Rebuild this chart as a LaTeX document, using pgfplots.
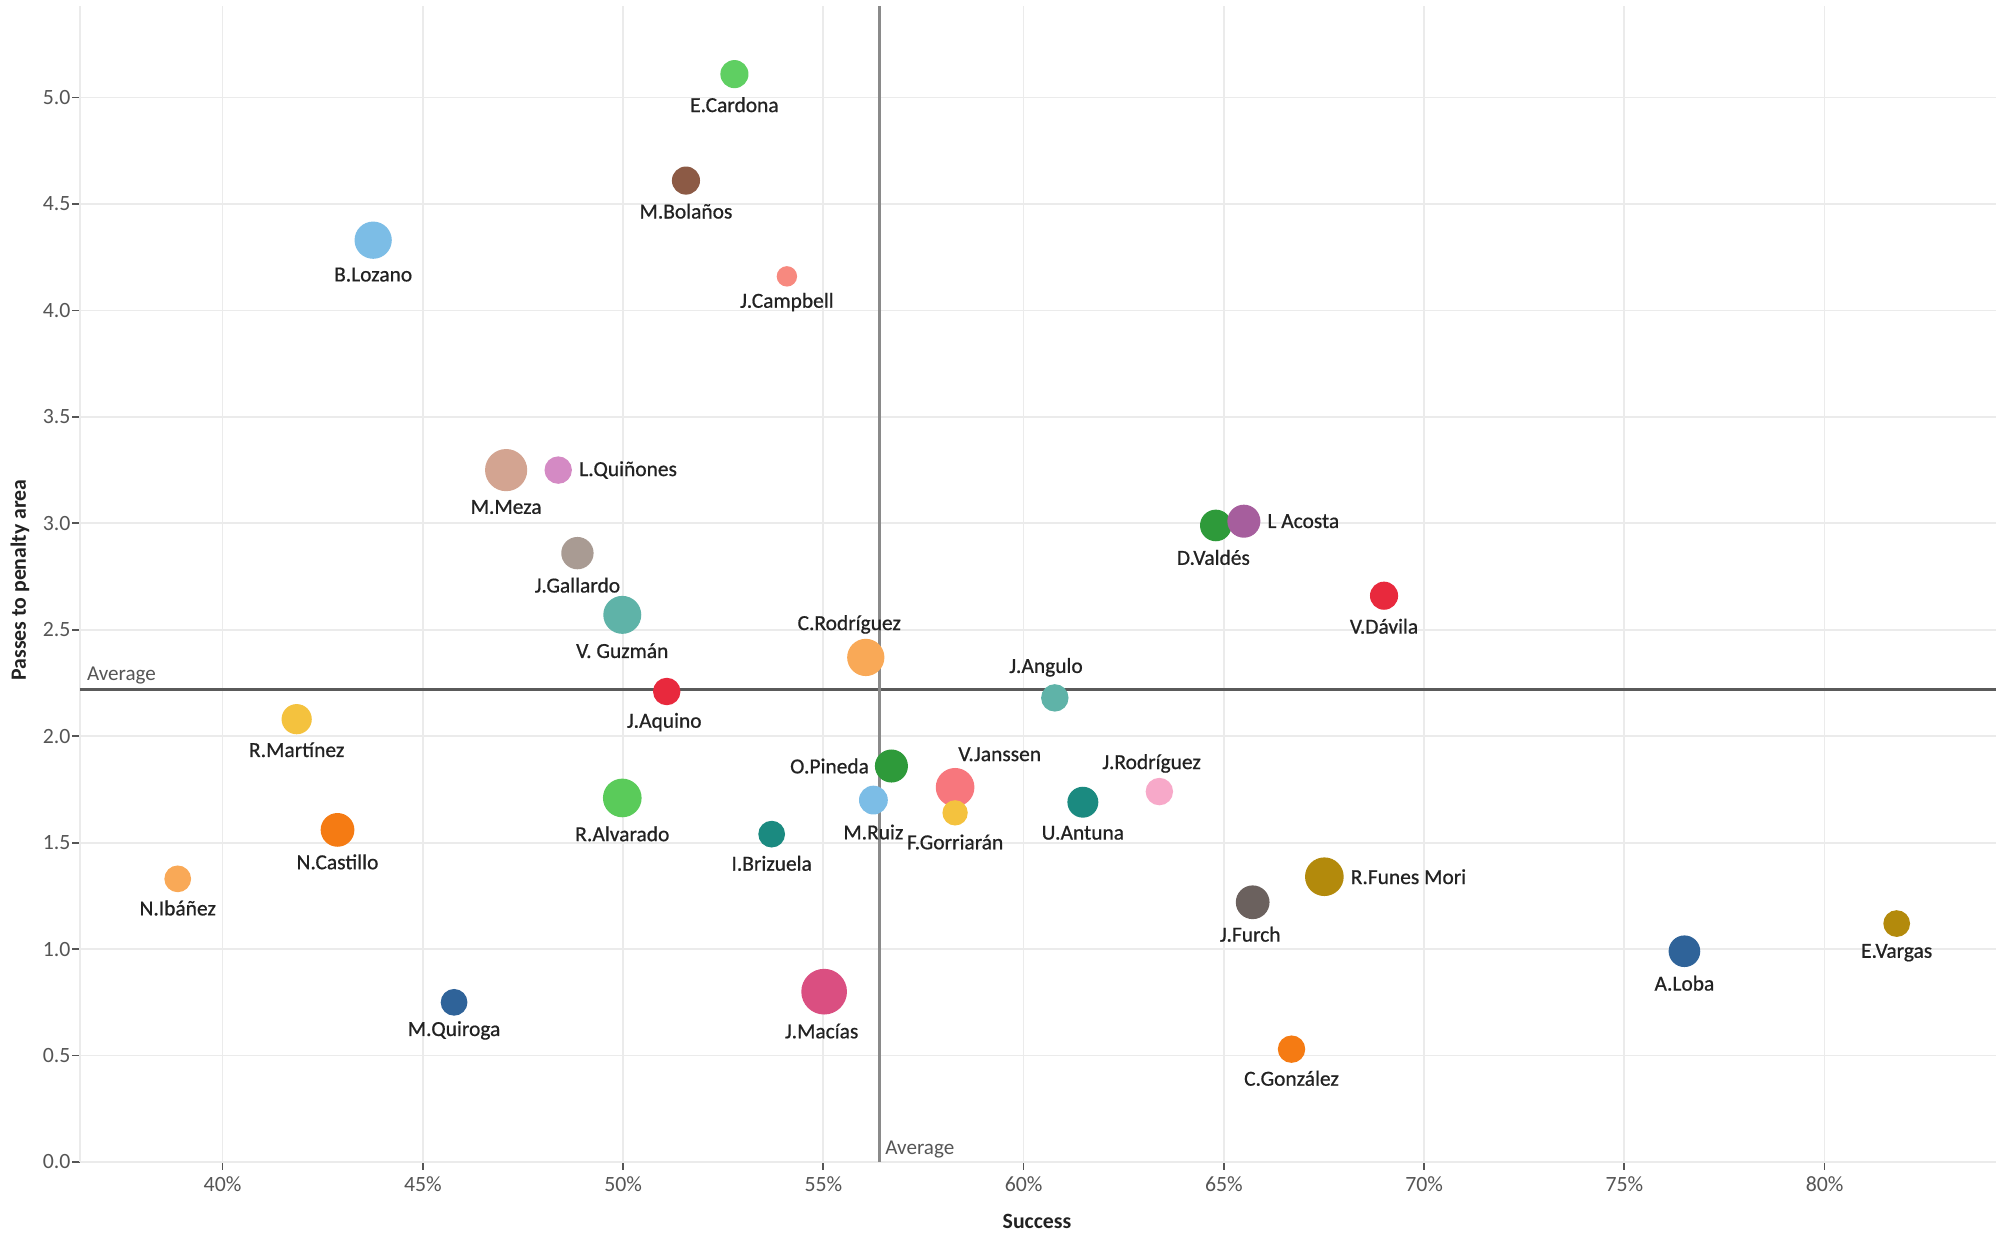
\documentclass[border=0pt]{standalone}
\usepackage{fontspec}
\setmainfont{Carlito}
\newfontface\lblfont{Carlito}[FakeBold=0.7]
\usepackage{pgfplots}
\pgfplotsset{compat=1.18}
\definecolor{gridgray}{HTML}{EBEBEB}
\definecolor{tickgray}{HTML}{555555}
\definecolor{labeltext}{HTML}{222222}
\definecolor{avgh}{HTML}{5A5A5A}
\definecolor{avgv}{HTML}{8A8A8A}
\definecolor{cLgreen}{HTML}{5FCF62}
\definecolor{cBrown}{HTML}{8C5A45}
\definecolor{cLblue}{HTML}{7CBDE6}
\definecolor{cSalmon}{HTML}{F7897F}
\definecolor{cTan}{HTML}{D3A491}
\definecolor{cOrchid}{HTML}{D48AC4}
\definecolor{cGrayBr}{HTML}{A99B93}
\definecolor{cTeal}{HTML}{5FB3A8}
\definecolor{cLorange}{HTML}{F9A957}
\definecolor{cRed}{HTML}{E8293D}
\definecolor{cYellow}{HTML}{F4C23E}
\definecolor{cGreen}{HTML}{2E9A3A}
\definecolor{cCoral}{HTML}{F7777D}
\definecolor{cPink}{HTML}{F7A9C9}
\definecolor{cGreen2}{HTML}{5ACB5A}
\definecolor{cDteal}{HTML}{1B8A80}
\definecolor{cOrange}{HTML}{F57B13}
\definecolor{cOlive}{HTML}{B38A0C}
\definecolor{cDgray}{HTML}{6B615E}
\definecolor{cDblue}{HTML}{2F6399}
\definecolor{cMagenta}{HTML}{DA4F81}
\definecolor{cPurple}{HTML}{A65E9D}
% x, y, colour, mark size, label, anchor, xshift, yshift
\newcommand{\bub}[8]{%
\addplot[only marks, mark=*, color=#3, mark size=#4, mark options={draw=none},
  nodes near coords, point meta=explicit symbolic,
  every node near coord/.append style={anchor=#6, xshift=#7, yshift=#8, text=labeltext,
    font=\lblfont\fontsize{6.1}{7}\selectfont, inner sep=0pt}]
  coordinates {(#1,#2) [#5]};}
\begin{document}
\begin{tikzpicture}
\useasboundingbox (0,0) rectangle (20cm,12.47cm);
\begin{axis}[
  at={(0.80cm,0.85cm)}, anchor=south west,
  scale only axis, width=19.16cm, height=11.56cm,
  xmin=36.44, xmax=84.28, ymin=0, ymax=5.43,
  axis x line*=bottom, axis y line*=left,
  axis line style={draw=gridgray, line width=0.6pt, -},
  grid=major, grid style={draw=gridgray, line width=0.5pt},
  xtick={40,45,...,80}, ytick={0,0.5,...,5.0},
  xticklabel={\pgfmathprintnumber{\tick}\%},
  y tick label style={/pgf/number format/fixed, /pgf/number format/fixed zerofill, /pgf/number format/precision=1},
  /pgf/number format/assume math mode=true,
  tick align=outside, major tick length=2.2pt,
  tick style={draw=tickgray, line width=0.5pt},
  ticklabel style={text=tickgray, font=\fontsize{6.2}{7}\selectfont},
  xticklabel style={yshift=1.5pt},
  yticklabel style={xshift=3pt},
  clip=false,
]
\bub{52.78}{5.11}{cLgreen}{3.8}{E.Cardona}{center}{0pt}{-8.7pt}
\bub{51.57}{4.61}{cBrown}{3.8}{M.Bolaños}{center}{0pt}{-8.7pt}
\bub{43.76}{4.33}{cLblue}{5.1}{B.Lozano}{center}{0pt}{-9.8pt}
\bub{54.09}{4.16}{cSalmon}{2.7}{J.Campbell}{center}{0pt}{-7.3pt}
\bub{47.08}{3.25}{cTan}{5.8}{M.Meza}{center}{0pt}{-10.5pt}
\bub{48.38}{3.25}{cOrchid}{3.7}{L.Quiñones}{west}{5.8pt}{0pt}
\bub{48.86}{2.86}{cGrayBr}{4.4}{J.Gallardo}{center}{0pt}{-9.1pt}
\bub{49.98}{2.57}{cTeal}{5.2}{V. Guzmán}{center}{0pt}{-10.2pt}
\bub{56.06}{2.37}{cLorange}{5.1}{C.Rodríguez}{center}{-4.7pt}{9.4pt}
\bub{51.09}{2.21}{cRed}{3.7}{J.Aquino}{center}{-0.7pt}{-8.7pt}
\bub{60.78}{2.18}{cTeal}{3.7}{J.Angulo}{center}{-2.5pt}{8.7pt}
\bub{41.85}{2.08}{cYellow}{4.1}{R.Martínez}{center}{0pt}{-8.7pt}
\bub{56.70}{1.86}{cGreen}{4.5}{O.Pineda}{east}{-6.2pt}{0pt}
\bub{58.29}{1.76}{cCoral}{5.3}{V.Janssen}{center}{12.7pt}{9.4pt}
\bub{63.39}{1.74}{cPink}{3.7}{J.Rodríguez}{center}{-2.2pt}{8.0pt}
\bub{49.98}{1.71}{cGreen2}{5.3}{R.Alvarado}{center}{0pt}{-10.2pt}
\bub{56.25}{1.70}{cLblue}{3.9}{M.Ruiz}{center}{0pt}{-9.1pt}
\bub{61.48}{1.69}{cDteal}{4.2}{U.Antuna}{center}{0pt}{-8.7pt}
\bub{58.29}{1.64}{cYellow}{3.4}{F.Gorriarán}{center}{0pt}{-8.3pt}
\bub{42.87}{1.56}{cOrange}{4.6}{N.Castillo}{center}{0pt}{-9.1pt}
\bub{53.71}{1.54}{cDteal}{3.6}{I.Brizuela}{center}{0pt}{-8.3pt}
\bub{67.51}{1.34}{cOlive}{5.3}{R.Funes Mori}{west}{7.3pt}{0pt}
\bub{38.88}{1.33}{cLorange}{3.6}{N.Ibáñez}{center}{0pt}{-8.3pt}
\bub{65.72}{1.22}{cDgray}{4.6}{J.Furch}{center}{-0.7pt}{-9.1pt}
\bub{81.80}{1.12}{cOlive}{3.6}{E.Vargas}{center}{0pt}{-8.3pt}
\bub{76.50}{0.99}{cDblue}{4.3}{A.Loba}{center}{0pt}{-9.1pt}
\bub{55.02}{0.80}{cMagenta}{6.3}{J.Macías}{center}{-0.7pt}{-11.2pt}
\bub{45.78}{0.75}{cDblue}{3.6}{M.Quiroga}{center}{0pt}{-8.0pt}
\bub{66.69}{0.53}{cOrange}{3.7}{C.González}{center}{0pt}{-8.3pt}
\bub{64.80}{2.99}{cGreen}{4.3}{D.Valdés}{center}{-0.7pt}{-9.1pt}
\bub{65.50}{3.01}{cPurple}{4.5}{L Acosta}{west}{6.5pt}{0pt}
\bub{69.00}{2.66}{cRed}{3.8}{V.Dávila}{center}{0pt}{-8.7pt}
% average lines
\addplot[avgh, line width=0.9pt] coordinates {(36.44,2.22) (84.28,2.22)};
\addplot[avgv, line width=0.7pt] coordinates {(56.40,0) (56.40,5.43)};
\node[anchor=south west, text=tickgray, font=\fontsize{6}{7}\selectfont, inner sep=0pt]
  at (axis cs:36.44,2.22) [xshift=1.8pt, yshift=1.2pt] {Average};
\node[anchor=south west, text=tickgray, font=\fontsize{6}{7}\selectfont, inner sep=0pt]
  at (axis cs:56.40,0) [xshift=1.5pt, yshift=1.0pt] {Average};
\end{axis}
\node[font=\bfseries\fontsize{6.2}{7}\selectfont, text=labeltext] at (10.37cm,0.26cm) {Success};
\node[font=\bfseries\fontsize{6.2}{7}\selectfont, text=labeltext, rotate=90] at (0.20cm,6.67cm) {Passes to penalty area};
\end{tikzpicture}
\end{document}
